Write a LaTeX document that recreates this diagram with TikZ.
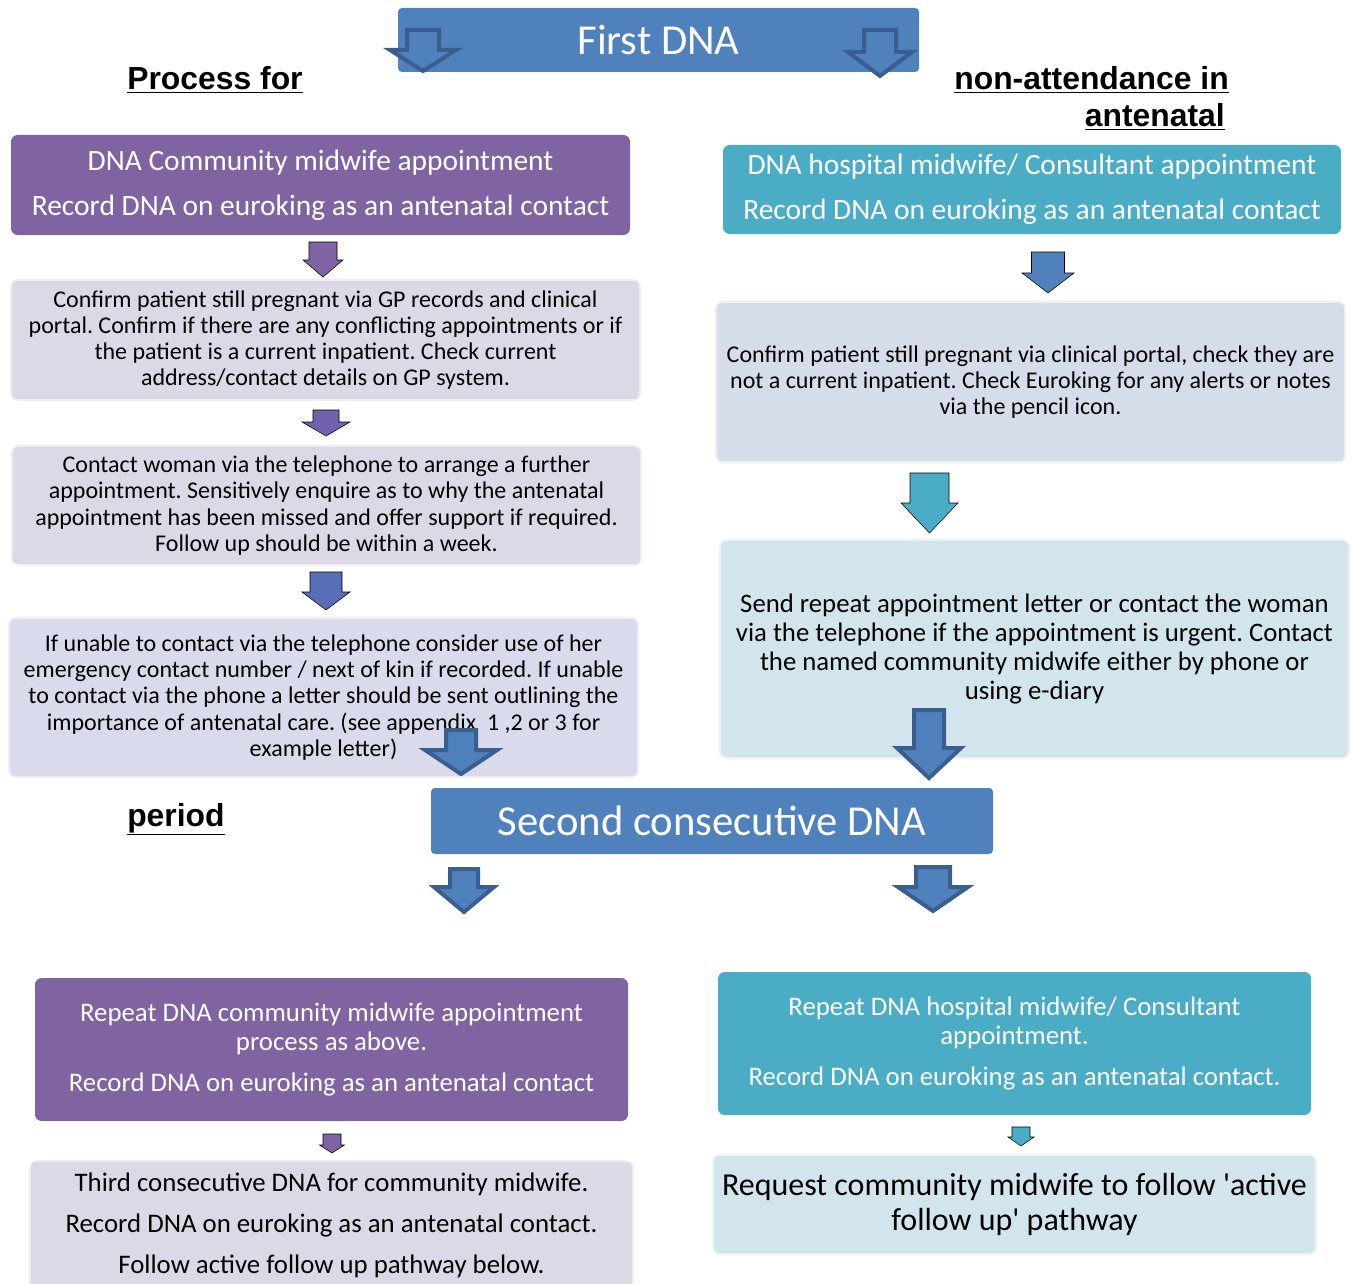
\documentclass[tikz,border=0pt]{standalone}
\usepackage{fontspec}
\setmainfont{Carlito}
\newfontfamily\headfont{Liberation Sans}
\frenchspacing
\definecolor{cpurple}{HTML}{8064A2}
\definecolor{cteal}{HTML}{4BACC6}
\definecolor{cblue}{HTML}{4F81BD}
\definecolor{cdark}{HTML}{3A5F8E}
\definecolor{clav}{HTML}{DCD8E6}
\definecolor{clavb}{HTML}{D9DAEB}
\definecolor{cgrayb}{HTML}{D5DDEA}
\definecolor{clteal}{HTML}{D3E5EC}
\definecolor{carB}{HTML}{7262AE}
\definecolor{carC}{HTML}{5A6DB8}
\tikzset{
  boxbase/.style={rounded corners=5pt, inner sep=0pt, align=center},
  darkbox/.style={boxbase, text=white, font=\fontsize{22.1}{23}\selectfont},
  lightbox/.style={boxbase, draw=white!55!#1, line width=1.2pt, fill=#1, text=black, font=\fontsize{18}{19.7}\selectfont},
  titlebox/.style={boxbase, rounded corners=3pt, fill=cblue, text=white, font=\fontsize{32}{36}\selectfont},
  heading/.style={font=\headfont\bfseries\fontsize{23.9}{28}\selectfont, inner sep=0pt},
  hollow/.style={draw=cdark, fill=cblue, line width=3pt, line join=miter},
}
\newcommand{\dnarrow}[7]{%
  \draw[#1] ({#2-#4},#3) -- ({#2+#4},#3) -- ({#2+#4},#6) -- ({#2+#5},#6) -- (#2,#7) -- ({#2-#5},#6) -- ({#2-#4},#6) -- cycle;}
\newcommand{\bx}[7]{%
  \node[#2, minimum width={(#5-#3)*0.75pt}, minimum height={(#6-#4)*0.75pt}] (#1) at ({(#3+#5)/2},{(#4+#6)/2}) {#7};}
\begin{document}
\begin{tikzpicture}[x=0.75pt,y=-0.75pt]
\useasboundingbox (0,0) rectangle (1352,1284);

% title boxes
\bx{first}{titlebox}{398}{8}{919}{72}{First DNA}
\bx{second}{titlebox}{431}{788}{993}{854}{Second consecutive DNA}

% headings
\node[heading, anchor=base] (hA) at (215,90) {\underline{Process for}};
\node[heading, anchor=base east] (hB) at (1229,90) {\underline{non-attendance in}};
\node[heading, anchor=base east] (hC) at (1225,127) {\underline{antenatal}};
\node[heading, anchor=base west] (hD) at (127,826) {\underline{period}};

% left column
\bx{L1}{darkbox, fill=cpurple}{11}{135}{630}{235}{DNA Community midwife appointment\\[10.5pt]Record DNA on euroking as an antenatal contact}
\bx{L2}{lightbox=clav}{11}{280}{640}{400}{Confirm patient still pregnant via GP records and clinical\\portal. Confirm if there are any conflicting appointments or if\\the patient is a current inpatient. Check current\\address/contact details on GP system.}
\bx{L3}{lightbox=clav}{12}{446}{641}{565}{Contact woman via the telephone to arrange a further\\appointment. Sensitively enquire as to why the antenatal\\appointment has been missed and offer support if required.\\Follow up should be within a week.}
\bx{L4}{lightbox=clavb}{9}{618}{638}{777}{If unable to contact via the telephone consider use of her\\emergency contact number / next of kin if recorded. If unable\\to contact via the phone a letter should be sent outlining the\\importance of antenatal care. (see appendix\ \ 1 ,2 or 3 for\\example letter)}
\bx{L5}{darkbox, fill=cpurple, font=\fontsize{20.1}{21.8}\selectfont}{35}{978}{628}{1121}{Repeat DNA community midwife appointment\\process as above.\\[9pt]Record DNA on euroking as an antenatal contact}
\bx{L6}{lightbox=clav, font=\fontsize{20.1}{30.8}\selectfont}{30}{1161}{633}{1289}{Third consecutive DNA for community midwife.\\Record DNA on euroking as an antenatal contact.\\Follow active follow up pathway below.}

% right column
\bx{R1}{darkbox, fill=cteal}{723}{145}{1341}{234}{DNA hospital midwife/ Consultant appointment\\[10.5pt]Record DNA on euroking as an antenatal contact}
\bx{R2}{lightbox=cgrayb}{716}{302}{1345}{462}{Confirm patient still pregnant via clinical portal, check they are\\not a current inpatient. Check Euroking for any alerts or notes\\via the pencil icon.}
\bx{R3}{lightbox=clteal, font=\fontsize{20.05}{21.8}\selectfont}{720}{540}{1349}{758}{Send repeat appointment letter or contact the woman\\via the telephone if the appointment is urgent. Contact\\the named community midwife either by phone or\\using e-diary}
\bx{R4}{darkbox, fill=cteal, font=\fontsize{20.1}{21.8}\selectfont}{718}{972}{1311}{1115}{Repeat DNA hospital midwife/ Consultant\\appointment.\\[9pt]Record DNA on euroking as an antenatal contact.}
\bx{R5}{lightbox=clteal, font=\fontsize{24}{26.3}\selectfont}{713}{1155}{1316}{1254}{Request community midwife to follow \textquotesingle active\\follow up\textquotesingle{} pathway}

% block arrows
\dnarrow{fill=cpurple}{323}{242}{14}{20}{260}{277}
\dnarrow{fill=carB}{326}{410}{13}{24}{422}{436}
\dnarrow{fill=carC}{326}{572}{16}{24}{592}{610}
\dnarrow{fill=cblue}{1048}{252}{16.5}{26}{273}{293}
\dnarrow{fill=cteal}{929.5}{473}{19.5}{28.5}{503}{533}
\dnarrow{fill=cpurple}{332}{1134}{9}{12.5}{1145}{1153}
\dnarrow{fill=cteal}{1021}{1127}{9}{13}{1137}{1146}

% hollow arrows
\dnarrow{hollow}{423}{30}{16}{33}{50}{71}
\dnarrow{hollow}{880}{30}{16}{32}{52}{76}
\dnarrow{hollow}{461}{730}{15}{36}{750}{774}
\dnarrow{hollow}{929}{710}{15}{32}{748}{778}
\dnarrow{hollow}{464}{869}{14}{30}{887}{912}
\dnarrow{hollow}{933}{867}{17}{35}{887}{911}
\end{tikzpicture}
\end{document}
